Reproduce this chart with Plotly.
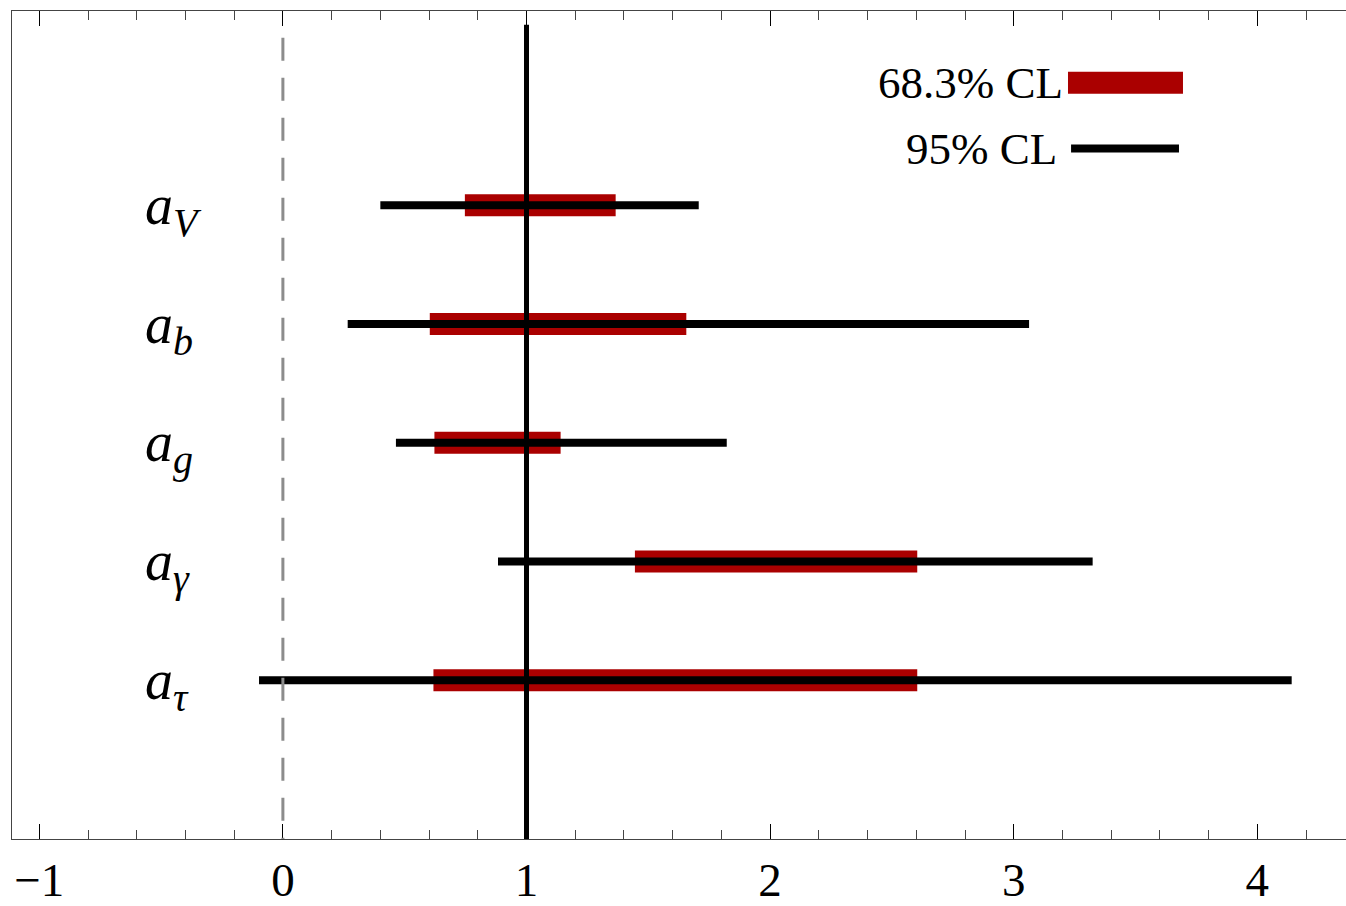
import plotly.graph_objects as go

# ---- data ----
param_main = ["a", "a", "a", "a", "a"]
param_subs = ["V", "b", "g", "γ", "τ"]
rows = [5, 4, 3, 2, 1]
lo95 = [0.400, 0.266, 0.464, 0.883, -0.098]
hi95 = [1.707, 3.063, 1.822, 3.324, 4.141]
lo68 = [0.747, 0.603, 0.622, 1.445, 0.618]
hi68 = [1.366, 1.656, 1.140, 2.604, 2.604]
legend_labels = ["68.3% CL", "95% CL"]
sm_value = 1.0
zero_value = 0.0
x_range = [-1.112, 4.364]
y_range = [-0.336, 6.636]

RED = "#AA0000"
FONT = "Liberation Serif"

def segs(lo, hi, ys):
    xs, yy = [], []
    for a, b, y in zip(lo, hi, ys):
        xs += [a, b, None]
        yy += [y, y, None]
    return xs, yy

fig = go.Figure()
x68, y68 = segs(lo68, hi68, rows)
fig.add_trace(go.Scatter(x=x68, y=y68, mode="lines",
                         line=dict(color=RED, width=22),
                         hoverinfo="skip", showlegend=False))
x95, y95 = segs(lo95, hi95, rows)
fig.add_trace(go.Scatter(x=x95, y=y95, mode="lines",
                         line=dict(color="black", width=8),
                         hoverinfo="skip", showlegend=False))

# reference lines
fig.add_shape(type="line", xref="x", yref="y", x0=zero_value, x1=zero_value,
              y0=6.41, y1=y_range[0],
              line=dict(color="#8c8c8c", width=3, dash="23px,17px"))
fig.add_shape(type="line", xref="x", yref="y", x0=sm_value, x1=sm_value,
              y0=6.52, y1=y_range[0],
              line=dict(color="black", width=5))

# parameter labels
for m, s, r in zip(param_main, param_subs, rows):
    lab = (f"<i>{m}</i><sub><span style='font-size:40px'><i>{s}</i></span></sub>")
    fig.add_annotation(x=0.0982, xref="paper", y=r, yref="y", yshift=-4,
                       text=lab, showarrow=False, xanchor="left", yanchor="middle",
                       font=dict(family=FONT, size=56, color="black"))

# custom legend
leg_y = [0.9134, 0.8339]
leg_text_x = [0.7894, 0.7849]
fig.add_annotation(x=leg_text_x[0], y=leg_y[0], xref="paper", yref="paper",
                   text=legend_labels[0], showarrow=False, xanchor="right", yanchor="middle",
                   font=dict(family=FONT, size=45, color="black"))
fig.add_annotation(x=leg_text_x[1], y=leg_y[1], xref="paper", yref="paper",
                   text=legend_labels[1], showarrow=False, xanchor="right", yanchor="middle",
                   font=dict(family=FONT, size=45, color="black"))
fig.add_shape(type="line", xref="paper", yref="paper", x0=0.7916, x1=0.8778,
              y0=leg_y[0], y1=leg_y[0], line=dict(color=RED, width=22))
fig.add_shape(type="line", xref="paper", yref="paper", x0=0.7939, x1=0.8748,
              y0=leg_y[1], y1=leg_y[1], line=dict(color="black", width=8))

fig.update_layout(
    width=1346, height=906,
    margin=dict(l=12, r=0, t=11, b=64),
    paper_bgcolor="white", plot_bgcolor="white",
    xaxis=dict(range=x_range, tickmode="linear", tick0=0, dtick=1,
               ticks="inside", ticklen=15, tickwidth=1, tickcolor="black",
               minor=dict(tickmode="linear", tick0=0, dtick=0.2, ticks="inside",
                          ticklen=9, tickwidth=1, tickcolor="#444"),
               showline=True, linecolor="#444", linewidth=1, mirror="ticks",
               showgrid=False, zeroline=False,
               tickfont=dict(family=FONT, size=47, color="black")),
    yaxis=dict(range=y_range, showticklabels=False, ticks="",
               showline=True, linecolor="#444", linewidth=1, mirror=False,
               showgrid=False, zeroline=False),
)

fig.write_html("out.html")
